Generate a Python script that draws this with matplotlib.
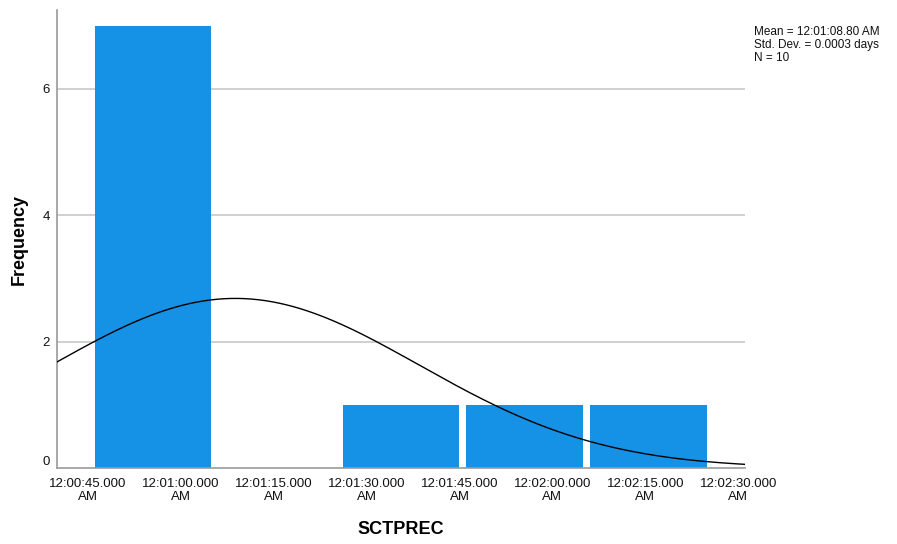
import matplotlib
matplotlib.use('Agg')
import numpy as np
import matplotlib.pyplot as plt
from matplotlib.ticker import FuncFormatter

plt.rcParams['font.family'] = ['Liberation Sans', 'DejaVu Sans']

# histogram of SCTPREC (seconds after midnight)
bin_left = [46.13, 66.13, 86.13, 106.13, 126.13]
counts = [7, 0, 1, 1, 1]
bin_width = 20.0
mean_sec = 68.8
sd_days = 0.000344
n = 10
tick_secs = [45, 60, 75, 90, 105, 120, 135, 150]

sd_sec = sd_days * 86400

def fmt_time(s, pos=None):
    m, sec = divmod(s, 60)
    return "12:%02d:%06.3f\nAM" % (int(m), sec)

fig = plt.figure(figsize=(8.97, 5.44), dpi=100)
ax = fig.add_axes([0.0635, 0.1397, 0.7670, 0.8419])

for y in [2, 4, 6]:
    ax.axhline(y, color='#c8c8c8', lw=1.2, zorder=0)

ax.bar(bin_left, counts, width=bin_width * 0.94, align='edge',
       color='#1591e6', edgecolor='none', zorder=2)

xs = np.linspace(40, 151.1, 400)
ys = n * bin_width / (sd_sec * np.sqrt(2 * np.pi)) * np.exp(-0.5 * ((xs - mean_sec) / sd_sec) ** 2)
ax.plot(xs, ys, color='black', lw=1.0, zorder=3)

ax.set_xlim(40, 151.1)
ax.set_ylim(0, 7.25)
ax.set_xticks(tick_secs)
ax.xaxis.set_major_formatter(FuncFormatter(fmt_time))
ax.set_yticks([0, 2, 4, 6])
ax.tick_params(length=0, labelsize=9.5, colors='#111111')
ax.tick_params(axis='x', pad=7)
ax.tick_params(axis='y', pad=5)

for side in ['top', 'right']:
    ax.spines[side].set_visible(False)
for side in ['left', 'bottom']:
    ax.spines[side].set_color('#9a9a9a')
    ax.spines[side].set_linewidth(1.2)

ax.set_ylabel('Frequency', fontsize=13, fontweight='bold', labelpad=11)
ax.set_xlabel('SCTPREC', fontsize=13, fontweight='bold', labelpad=13)

m, sec = divmod(mean_sec, 60)
fig.text(0.841, 0.952,
         "Mean = 12:%02d:%05.2f AM\nStd. Dev. = %.4f days\nN = %d" % (int(m), sec, sd_days, n),
         fontsize=8.5, va='top', ha='left', linespacing=1.1, color='#111111')

fig.canvas.draw()
for lbl in ax.get_xticklabels():
    lbl.set_linespacing(1.15)
ax.get_yticklabels()[0].set_verticalalignment('bottom')

plt.savefig("out.png", dpi=100)
